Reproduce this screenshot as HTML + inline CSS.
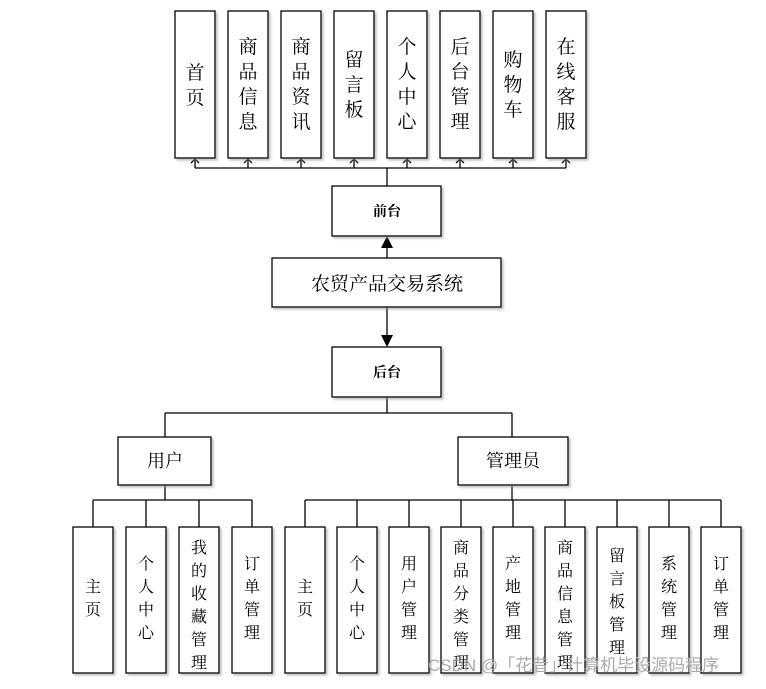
<!DOCTYPE html>
<html><head><meta charset="utf-8"><style>
body{margin:0;background:#fff}
svg text{font-family:"Liberation Serif","Noto Serif CJK SC","Noto Sans CJK SC",serif;fill:#000}
</style></head><body>
<svg width="766" height="684" viewBox="0 0 766 684" xmlns="http://www.w3.org/2000/svg">
<defs><filter id="s" x="-10%" y="-10%" width="130%" height="130%"><feDropShadow dx="2" dy="2" stdDeviation="1" flood-color="#999" flood-opacity="0.6"/></filter></defs>
<g stroke="#000" stroke-width="1.3" fill="none">
<!-- top connectors -->
<line x1="195" y1="168" x2="566" y2="168"/>
<line x1="387" y1="168" x2="387" y2="186"/>
<g id="tl">
<path d="M195 168V159M191 163L195 159L199 163"/><path d="M248 168V159M244 163L248 159L252 163"/><path d="M301 168V159M297 163L301 159L305 163"/><path d="M354 168V159M350 163L354 159L358 163"/><path d="M407 168V159M403 163L407 159L411 163"/><path d="M460 168V159M456 163L460 159L464 163"/><path d="M513 168V159M509 163L513 159L517 163"/><path d="M566 168V159M562 163L566 159L570 163"/>
</g>
<line x1="387" y1="258" x2="387" y2="248"/>
<line x1="387" y1="307" x2="387" y2="336"/>
<line x1="387" y1="397" x2="387" y2="413"/>
<line x1="165" y1="413" x2="512" y2="413"/>
<line x1="165" y1="413" x2="165" y2="437"/>
<line x1="512" y1="413" x2="512" y2="437"/>
<line x1="165" y1="485" x2="165" y2="500"/>
<line x1="512" y1="485" x2="512" y2="500"/>
<line x1="93" y1="500" x2="252" y2="500"/>
<line x1="305" y1="500" x2="721" y2="500"/>
<path d="M93 500V527M146 500V527M199 500V527M252 500V527"/>
<path d="M305 500V527M357 500V527M409 500V527M461 500V527M513 500V527M565 500V527M617 500V527M669 500V527M721 500V527"/>
</g>
<polygon points="387,236 381,248 393,248" fill="#000"/>
<polygon points="387,347 381,335 393,335" fill="#000"/>
<g stroke="#000" stroke-width="1.3" fill="#fff" filter="url(#s)">
<rect x="175" y="11" width="40" height="147"/><rect x="228" y="11" width="40" height="147"/><rect x="281" y="11" width="40" height="147"/><rect x="334" y="11" width="40" height="147"/><rect x="387" y="11" width="40" height="147"/><rect x="440" y="11" width="40" height="147"/><rect x="493" y="11" width="40" height="147"/><rect x="546" y="11" width="40" height="147"/>
<rect x="332" y="186" width="109" height="50"/>
<rect x="272" y="258" width="229" height="49"/>
<rect x="332" y="347" width="109" height="50"/>
<rect x="118" y="437" width="93" height="48"/>
<rect x="458" y="437" width="110" height="48"/>
<rect x="73" y="527" width="40" height="146"/><rect x="126" y="527" width="40" height="146"/><rect x="179" y="527" width="40" height="146"/><rect x="232" y="527" width="40" height="146"/>
<rect x="285" y="527" width="40" height="146"/><rect x="337" y="527" width="40" height="146"/><rect x="389" y="527" width="40" height="146"/><rect x="441" y="527" width="40" height="146"/><rect x="493" y="527" width="40" height="146"/><rect x="545" y="527" width="40" height="146"/><rect x="597" y="527" width="40" height="146"/><rect x="649" y="527" width="40" height="146"/><rect x="701" y="527" width="40" height="146"/>
</g>
<g font-size="19" text-anchor="middle">
<text x="195"><tspan x="195" y="79">首</tspan><tspan x="195" y="104">页</tspan></text>
<text><tspan x="248" y="53">商</tspan><tspan x="248" y="78">品</tspan><tspan x="248" y="103">信</tspan><tspan x="248" y="128">息</tspan></text>
<text><tspan x="301" y="53">商</tspan><tspan x="301" y="78">品</tspan><tspan x="301" y="103">资</tspan><tspan x="301" y="128">讯</tspan></text>
<text><tspan x="354" y="66">留</tspan><tspan x="354" y="91">言</tspan><tspan x="354" y="116">板</tspan></text>
<text><tspan x="407" y="53">个</tspan><tspan x="407" y="78">人</tspan><tspan x="407" y="103">中</tspan><tspan x="407" y="128">心</tspan></text>
<text><tspan x="460" y="53">后</tspan><tspan x="460" y="78">台</tspan><tspan x="460" y="103">管</tspan><tspan x="460" y="128">理</tspan></text>
<text><tspan x="513" y="66">购</tspan><tspan x="513" y="91">物</tspan><tspan x="513" y="116">车</tspan></text>
<text><tspan x="566" y="53">在</tspan><tspan x="566" y="78">线</tspan><tspan x="566" y="103">客</tspan><tspan x="566" y="128">服</tspan></text>
<text x="387" y="290" font-size="19">农贸产品交易系统</text>
<text x="165" y="467" font-size="18">用户</text>
<text x="513" y="467" font-size="18">管理员</text>
</g>
<g font-size="14" text-anchor="middle" font-weight="bold">
<text x="387" y="216">前台</text>
<text x="387" y="377">后台</text>
</g>
<g font-size="16" text-anchor="middle">
<text><tspan x="93" y="592">主</tspan><tspan x="93" y="615">页</tspan></text>
<text><tspan x="146" y="569">个</tspan><tspan x="146" y="592">人</tspan><tspan x="146" y="615">中</tspan><tspan x="146" y="638">心</tspan></text>
<text><tspan x="199" y="553">我</tspan><tspan x="199" y="576">的</tspan><tspan x="199" y="599">收</tspan><tspan x="199" y="622">藏</tspan><tspan x="199" y="645">管</tspan><tspan x="199" y="668">理</tspan></text>
<text><tspan x="252" y="569">订</tspan><tspan x="252" y="592">单</tspan><tspan x="252" y="615">管</tspan><tspan x="252" y="638">理</tspan></text>
<text><tspan x="305" y="592">主</tspan><tspan x="305" y="615">页</tspan></text>
<text><tspan x="357" y="569">个</tspan><tspan x="357" y="592">人</tspan><tspan x="357" y="615">中</tspan><tspan x="357" y="638">心</tspan></text>
<text><tspan x="409" y="569">用</tspan><tspan x="409" y="592">户</tspan><tspan x="409" y="615">管</tspan><tspan x="409" y="638">理</tspan></text>
<text><tspan x="461" y="553">商</tspan><tspan x="461" y="576">品</tspan><tspan x="461" y="599">分</tspan><tspan x="461" y="622">类</tspan><tspan x="461" y="645">管</tspan><tspan x="461" y="668">理</tspan></text>
<text><tspan x="513" y="569">产</tspan><tspan x="513" y="592">地</tspan><tspan x="513" y="615">管</tspan><tspan x="513" y="638">理</tspan></text>
<text><tspan x="565" y="553">商</tspan><tspan x="565" y="576">品</tspan><tspan x="565" y="599">信</tspan><tspan x="565" y="622">息</tspan><tspan x="565" y="645">管</tspan><tspan x="565" y="668">理</tspan></text>
<text><tspan x="617" y="561">留</tspan><tspan x="617" y="584">言</tspan><tspan x="617" y="607">板</tspan><tspan x="617" y="630">管</tspan><tspan x="617" y="653">理</tspan></text>
<text><tspan x="669" y="569">系</tspan><tspan x="669" y="592">统</tspan><tspan x="669" y="615">管</tspan><tspan x="669" y="638">理</tspan></text>
<text><tspan x="721" y="569">订</tspan><tspan x="721" y="592">单</tspan><tspan x="721" y="615">管</tspan><tspan x="721" y="638">理</tspan></text>
</g>
<text x="428" y="671" font-size="17" style="fill:#aaa;font-family:'Liberation Sans','Noto Sans CJK SC',sans-serif">CSDN @「花昔」计算机毕设源码程序</text>
</svg>
</body></html>
